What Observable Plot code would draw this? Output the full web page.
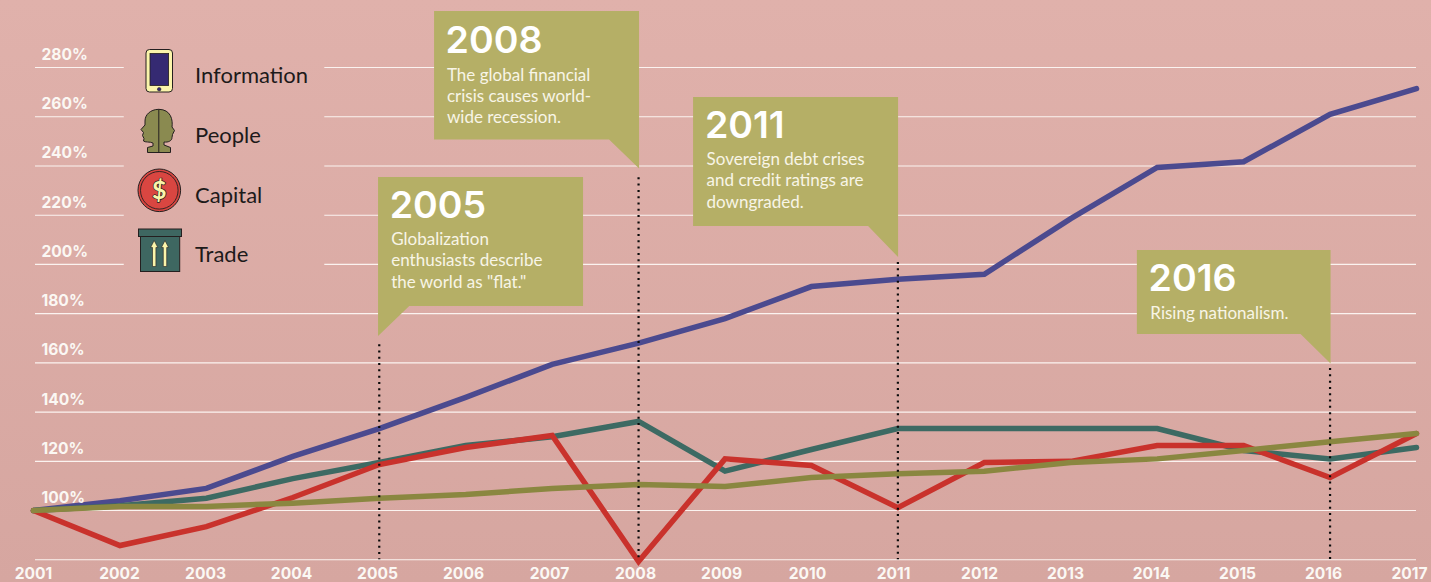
<!DOCTYPE html>
<html>
<head>
<meta charset="utf-8">
<script src="https://cdn.jsdelivr.net/npm/d3@7"></script>
<script src="https://cdn.jsdelivr.net/npm/@observablehq/plot@0.6"></script>
<style>
  html, body { margin: 0; padding: 0; }
  body { width: 1431px; height: 582px; overflow: hidden; background: linear-gradient(#e0b1ab, #d6a6a0); }
  svg { display: block; overflow: hidden; }
</style>
</head>
<body>
<script>
// Connectedness indexed to 2001 = 100%
const years = d3.range(2001, 2018);
const information = [100, 104, 109, 122, 133.3, 146, 159.4, 168, 178, 191, 194, 196, 218.6, 239.4, 241.7, 261, 271.4];
const trade = [100, 102, 105, 113, 119.5, 126.4, 130, 136.2, 116, 124.8, 133.3, 133.3, 133.3, 133.3, 124.4, 121, 125.6];
const capital = [100, 85.8, 93.5, 105.3, 118.7, 125.6, 130.5, 79.3, 121, 118.3, 101.2, 119.5, 120, 126.4, 126.4, 113.4, 131.3];
const people = [100, 101.7, 101.7, 103, 105, 106.5, 109, 110.6, 109.8, 113.4, 115, 116, 119.5, 121, 124.4, 128, 131.3];

const gridValues = d3.range(80, 300, 20);
const axisValues = d3.range(100, 300, 20);
const legendSpanned = [200, 220, 240, 260, 280];

const seriesNames = ["Information", "Trade", "Capital", "People"];
const seriesValues = [information, trade, capital, people];
const seriesColors = ["#4b4a8f", "#3d6a63", "#c9322c", "#8a8740"];

const eventYears = [2005, 2008, 2011, 2016];
const eventHeadings = ["2005", "2008", "2011", "2016"];
const eventTexts = [
  "Globalization\nenthusiasts describe\nthe world as \"flat.\"",
  "The global financial\ncrisis causes world-\nwide recession.",
  "Sovereign debt crises\nand credit ratings are\ndowngraded.",
  "Rising nationalism."
];
const tipValues = [170.7, 238.8, 202.8, 159.5];
const dotTopValues = [167.4, 235.2, 200.8, 157.7];

const rows = seriesNames.flatMap((name, i) =>
  years.map((year, j) => ({ name, year, value: seriesValues[i][j] }))
);

const SANS = "Lato, sans-serif";
const TICK = "Inter, sans-serif";
const CALLOUT = "#b5af66";
const LABEL = "#fbf8f4";
const INK = "#1d1a1a";

// Box geometry of each speech bubble, in pixels relative to its pointer tip
const bubbles = [
  { left: -0.7, right: 204.3, top: -159, bottom: -30, tail: "left" },
  { left: -204, right: 1, top: -157.5, bottom: -28.8, tail: "right" },
  { left: -204.3, right: 0.7, top: -160, bottom: -31, tail: "right" },
  { left: -192.7, right: 1, top: -113.6, bottom: -29.6, tail: "right" }
];
const headingOffsets = [[10.5, -119], [-193, -115.5], [-193, -120], [-181.5, -73.6]];
const bodyOffsets = [[12, -49], [-191.6, -45.8], [-191.3, -50], [-179.7, -45.6]];

// Speech bubbles anchored on the event year through the chart's scales
function bubbleMark(index, { x, y }) {
  const g = d3.create("svg:g");
  eventYears.forEach((year, i) => {
    const b = bubbles[i];
    const px = x(year), py = y(tipValues[i]);
    const pts = b.tail === "left"
      ? [[b.left, b.top], [b.right, b.top], [b.right, b.bottom], [30.5, b.bottom], [b.left, 0]]
      : [[b.left, b.top], [b.right, b.top], [b.right, 0], [b.right - 30, b.bottom], [b.left, b.bottom]];
    g.append("path")
      .attr("d", d3.line()(pts.map(([dx, dy]) => [px + dx, py + dy])) + "Z")
      .attr("fill", CALLOUT);
  });
  return g.node();
}

// Pictogram key in the upper left of the chart
function legendMark() {
  const g = d3.create("svg:g").attr("text-anchor", "start");
  const stroke = "#241f1f";

  // tablet
  g.append("rect").attr("x", 146).attr("y", 49.5).attr("width", 26.5).attr("height", 42.5).attr("rx", 3.5)
    .attr("fill", "#fbf5ab").attr("stroke", stroke).attr("stroke-width", 1);
  g.append("rect").attr("x", 150).attr("y", 53.5).attr("width", 18.6).attr("height", 32)
    .attr("fill", "#352a72").attr("stroke", stroke).attr("stroke-width", 0.8);
  g.append("circle").attr("cx", 159.2).attr("cy", 89.2).attr("r", 1.8).attr("fill", "#352a72").attr("stroke", stroke).attr("stroke-width", 0.5);

  // two profiles back to back
  g.append("path")
    .attr("d", "M158.8 109.3C150 109.5 145 115 145 121L145 125L141 129.5L143.5 132.5L142.5 135.5L144 138.5L143.5 141C145 142.5 150 141.5 153 143L153 146L147.5 147.5L147.5 152.5L170.5 152.5L170.5 147.5L164 145L164 142C168 142.5 172 141 172 137.5L172.5 134.5L174.5 130.5L172 127C173 120 171 109.5 158.8 109.3Z")
    .attr("fill", "#8a8a50").attr("stroke", stroke).attr("stroke-width", 1);
  g.append("line").attr("x1", 158.8).attr("x2", 158.8).attr("y1", 109.3).attr("y2", 152.5).attr("stroke", stroke).attr("stroke-width", 1);

  // coin
  g.append("circle").attr("cx", 159.3).attr("cy", 190.3).attr("r", 21.3).attr("fill", "#d94641").attr("stroke", stroke).attr("stroke-width", 1);
  g.append("circle").attr("cx", 159.3).attr("cy", 190.3).attr("r", 18.8).attr("fill", "none").attr("stroke", stroke).attr("stroke-width", 0.9);
  g.append("text").attr("x", 159.3).attr("y", 198.5).attr("text-anchor", "middle")
    .attr("font-family", SANS).attr("font-weight", 700).attr("font-size", 25)
    .attr("fill", "#fbf5ab").attr("stroke", stroke).attr("stroke-width", 1.4).attr("paint-order", "stroke").text("$");

  // crate with upward arrows
  g.append("rect").attr("x", 140.5).attr("y", 236).attr("width", 39.2).attr("height", 35.5).attr("fill", "#3e6761").attr("stroke", stroke).attr("stroke-width", 1);
  g.append("rect").attr("x", 138.5).attr("y", 229).attr("width", 43).attr("height", 7.5).attr("fill", "#3e6761").attr("stroke", stroke).attr("stroke-width", 1);
  [154.2, 165].forEach(cx => {
    g.append("path")
      .attr("d", `M${cx} 240.5L${cx + 3.6} 247.5L${cx + 1.7} 247.5L${cx + 1.7} 266.5L${cx - 1.7} 266.5L${cx - 1.7} 247.5L${cx - 3.6} 247.5Z`)
      .attr("fill", "#fbf5ab").attr("stroke", stroke).attr("stroke-width", 0.6);
  });

  // key labels
  [["Information", 83], ["People", 143], ["Capital", 203], ["Trade", 262]].forEach(([label, base]) => {
    g.append("text").attr("x", 195).attr("y", base).attr("text-anchor", "start")
      .attr("font-family", SANS).attr("font-size", 22).attr("fill", INK).text(label);
  });
  return g.node();
}

const gridFull = gridValues.filter(v => !legendSpanned.includes(v));

const plot = Plot.plot({
  width: 1431,
  height: 582,
  marginTop: 0, marginRight: 0, marginBottom: 0, marginLeft: 0,
  style: { background: "transparent" },
  x: { domain: [2001, 2017], range: [33, 1416], axis: null },
  y: { domain: [80, 280], range: [559.3, 67], axis: null },
  color: { domain: seriesNames, range: seriesColors },
  marks: [
    // horizontal rules, interrupted by the key where it sits over them
    Plot.ruleY(gridFull, { x1: 2001.023, x2: 2017, stroke: "#fbf3f0", strokeWidth: 1.1 }),
    Plot.ruleY(legendSpanned, { x1: 2001.023, x2: 2002.05, stroke: "#fbf3f0", strokeWidth: 1.1 }),
    Plot.ruleY(legendSpanned, { x1: 2004.37, x2: 2017, stroke: "#fbf3f0", strokeWidth: 1.1 }),

    bubbleMark,

    Plot.line(rows, {
      x: "year", y: "value", z: "name", stroke: "name",
      strokeWidth: 5.5, strokeLinecap: "round", strokeLinejoin: "miter", strokeMiterlimit: 6
    }),

    Plot.ruleX(eventYears, {
      x: d => d,
      y1: d => dotTopValues[eventYears.indexOf(d)],
      y2: 80,
      stroke: "#0a0a0a", strokeWidth: 2.2, strokeDasharray: "2,4.3"
    }),

    // value labels sit just above their rule
    Plot.text(axisValues, {
      x: 2001, y: d => d, text: d => `${d}%`, textAnchor: "start", dx: 8, dy: -12.5,
      fill: LABEL, fontFamily: TICK, fontWeight: 700, fontSize: 15.6
    }),
    // year labels along the foot
    Plot.text(years, {
      x: d => d - (d - 2001) * 0.005, y: 80, text: d => String(d), dy: 14.5,
      fill: LABEL, fontFamily: TICK, fontWeight: 700, fontSize: 15.6
    }),

    ...eventYears.flatMap((year, i) => [
      Plot.text([year], {
        x: d => d, y: () => tipValues[i], text: () => eventHeadings[i],
        textAnchor: "start", lineAnchor: "bottom",
        dx: headingOffsets[i][0], dy: headingOffsets[i][1],
        fill: "#ffffff", fontFamily: TICK, fontWeight: 600, fontSize: 37.5
      }),
      Plot.text([year], {
        x: d => d, y: () => tipValues[i], text: () => eventTexts[i],
        textAnchor: "start", lineAnchor: "bottom",
        dx: bodyOffsets[i][0], dy: bodyOffsets[i][1],
        lineHeight: 1.253,
        fill: "#f8f5e6", fontFamily: SANS, fontSize: 17
      })
    ]),

    legendMark
  ]
});
document.body.appendChild(plot);
</script>
</body>
</html>
